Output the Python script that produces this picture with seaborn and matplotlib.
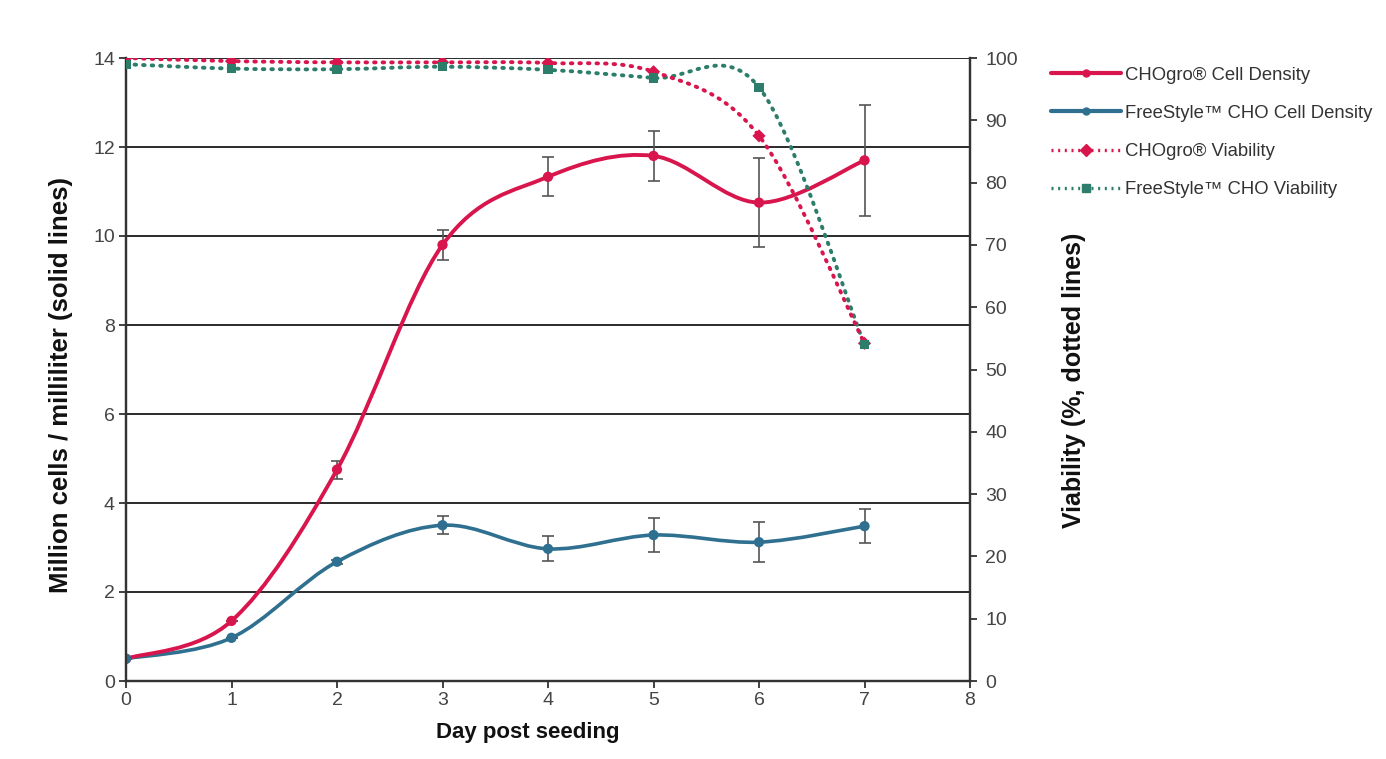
import matplotlib

matplotlib.use("Agg")
import matplotlib.pyplot as plt
import numpy as np
import pandas as pd
import seaborn as sns
from matplotlib.lines import Line2D
from matplotlib.patches import PathPatch
from matplotlib.path import Path

days = [0, 1, 2, 3, 4, 5, 6, 7]

chogro_density = [0.5, 1.35, 4.75, 9.8, 11.33, 11.8, 10.75, 11.7]
chogro_density_err = [0.0, 0.0, 0.2, 0.34, 0.44, 0.56, 1.0, 1.24]
freestyle_density = [0.5, 0.97, 2.68, 3.5, 2.97, 3.28, 3.12, 3.48]
freestyle_density_err = [0.0, 0.0, 0.05, 0.2, 0.28, 0.39, 0.45, 0.38]

chogro_viability = [100.0, 99.5, 99.3, 99.3, 99.2, 97.8, 87.5, 54.2]
freestyle_viability = [99.0, 98.3, 98.2, 98.6, 98.1, 96.8, 95.3, 54.0]

series_names = [
    "CHOgro® Cell Density",
    "FreeStyle™ CHO Cell Density",
    "CHOgro® Viability",
    "FreeStyle™ CHO Viability",
]

RED = "#d8164d"
BLUE = "#2f6f8f"
GREEN = "#2c7d6a"


def smooth_path(x, y):
    # Excel-style smoothed line: cubic Bezier segments through each point
    pts = np.column_stack([x, y]).astype(float)
    n = len(pts)
    verts = [pts[0]]
    codes = [Path.MOVETO]
    for i in range(n - 1):
        p_prev = pts[i - 1] if i > 0 else pts[i]
        p_next2 = pts[i + 2] if i + 2 < n else pts[i + 1]
        c1 = pts[i] + (pts[i + 1] - p_prev) / 6.0
        c2 = pts[i + 1] - (p_next2 - pts[i]) / 6.0
        verts += [c1, c2, pts[i + 1]]
        codes += [Path.CURVE4] * 3
    return Path(verts, codes)


sns.set_theme(style="white")
plt.rcParams["font.family"] = ["Liberation Sans", "DejaVu Sans"]

fig = plt.figure(figsize=(13.86, 7.59), dpi=100)
ax = fig.add_axes([126 / 1386, 78 / 759, 844 / 1386, 623 / 759])
ax2 = ax.twinx()

ax.set_xlim(0, 8)
ax.set_ylim(0, 14)
ax2.set_ylim(0, 100)

# horizontal grid lines at the left-axis ticks
for yv in range(2, 15, 2):
    ax.axhline(yv, color="#2a2a2a", lw=1.4, zorder=1)

density = pd.DataFrame({
    "day": days * 2,
    "value": chogro_density + freestyle_density,
    "series": [series_names[0]] * 8 + [series_names[1]] * 8,
})
viability = pd.DataFrame({
    "day": days * 2,
    "value": chogro_viability + freestyle_viability,
    "series": [series_names[2]] * 8 + [series_names[3]] * 8,
})

# error bars
ax.errorbar(days, chogro_density, yerr=chogro_density_err, fmt="none",
            ecolor="#555555", elinewidth=1.2, capsize=4.5, capthick=1.2, zorder=3)
ax.errorbar(days, freestyle_density, yerr=freestyle_density_err, fmt="none",
            ecolor="#555555", elinewidth=1.2, capsize=4.5, capthick=1.2, zorder=3)

# smooth density curves
ax.add_patch(PathPatch(smooth_path(days, freestyle_density), fill=False,
                       edgecolor=BLUE, lw=2.6, zorder=4))
ax.add_patch(PathPatch(smooth_path(days, chogro_density), fill=False,
                       edgecolor=RED, lw=2.8, zorder=5))
sns.scatterplot(data=density, x="day", y="value", hue="series", style="series",
                palette=[RED, BLUE], markers=["o", "o"], s=55, edgecolor="none",
                legend=False, ax=ax, zorder=6)

# smooth viability curves (dotted)
ax2.add_patch(PathPatch(smooth_path(days, freestyle_viability), fill=False,
                        edgecolor=GREEN, lw=2.8, linestyle=(0, (0.4, 1.8)),
                        capstyle="round", zorder=4))
ax2.add_patch(PathPatch(smooth_path(days, chogro_viability), fill=False,
                        edgecolor=RED, lw=2.8, linestyle=(0, (0.4, 1.8)),
                        capstyle="round", zorder=5))
sns.scatterplot(data=viability, x="day", y="value", hue="series", style="series",
                palette=[RED, GREEN], markers=["D", "s"], s=45, edgecolor="none",
                legend=False, ax=ax2, zorder=6)

# axes styling
for a in (ax, ax2):
    a.spines["top"].set_visible(False)
    for side in ("left", "right", "bottom"):
        a.spines[side].set_color("#333333")
        a.spines[side].set_linewidth(1.6)
    a.set_xlabel("")
    a.set_ylabel("")

ax.set_xticks(range(0, 9))
ax.set_yticks(range(0, 15, 2))
ax2.set_yticks(range(0, 101, 10))
ax.tick_params(axis="both", direction="out", length=5, width=1.3, color="#333333",
               labelsize=14, labelcolor="#444444", pad=3, left=True, bottom=True)
ax2.tick_params(axis="y", direction="out", length=5, width=1.3, color="#333333",
                labelsize=14, labelcolor="#444444", pad=6, right=True)

label_font = dict(family=["Liberation Sans", "DejaVu Sans"],
                  weight="bold", color="#111111")
ax.set_ylabel("Million cells / milliliter (solid lines)", size=18.5, **label_font)
ax.yaxis.set_label_coords(-0.063, 0.475)
ax2.set_ylabel("Viability (%, dotted lines)", size=18, **label_font)
ax2.yaxis.set_label_coords(1.109, 0.482)
ax.set_xlabel("Day post seeding", size=16, **label_font)
ax.xaxis.set_label_coords(0.476, -0.066)

handles = [
    Line2D([], [], color=RED, lw=3, marker="o", markersize=5, markevery=[1]),
    Line2D([], [], color=BLUE, lw=3, marker="o", markersize=5, markevery=[1]),
    Line2D([], [], color=RED, lw=2.4, linestyle=(0, (0.6, 1.4)), marker="D",
           markersize=6, markevery=[1]),
    Line2D([], [], color=GREEN, lw=2.4, linestyle=(0, (0.6, 1.4)), marker="s",
           markersize=6, markevery=[1]),
]
for h in handles:
    h.set_xdata([0, 0.5, 1])
    h.set_ydata([0, 0, 0])
fig.legend(handles, series_names, loc="upper left", bbox_to_anchor=(0.746, 0.934),
           frameon=False, fontsize=13.3, handlelength=3.8, handletextpad=0.25,
           labelspacing=1.15, labelcolor="#333333")

fig.savefig("out.png", dpi=100)
